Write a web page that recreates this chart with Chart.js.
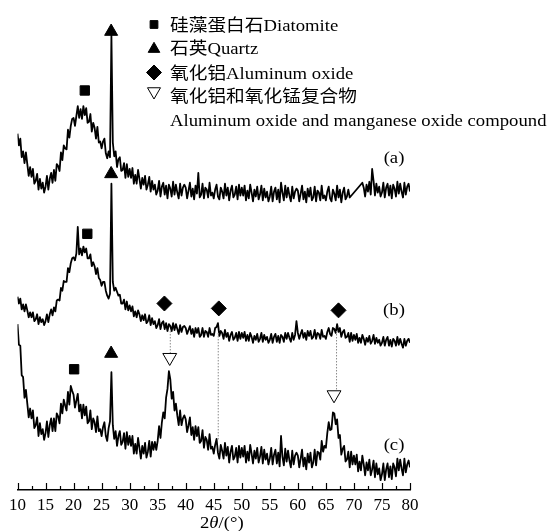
<!DOCTYPE html>
<html>
<head>
<meta charset="utf-8">
<script src="https://cdn.jsdelivr.net/npm/chart.js@4.4.0/dist/chart.umd.min.js"></script>
<style>
  html, body { margin: 0; padding: 0; background: #fff; }
  #xrd { display: block; }
</style>
</head>
<body>
<canvas id="xrd" width="548" height="531"></canvas>
<script>
// 2θ sampling grid, 0.25° steps from 10 to 80
const twoTheta = [];
for (let i = 0; i <= 280; i++) twoTheta.push(10 + i * 0.25);

// intensity (a.u., offset per trace), one row = 5°
const sampleA = [
  363,351,358,339,345,333,344,332,320,329,319,327,312,315,322,306,317,307,313,303,
  309,320,306,317,323,313,326,315,332,330,325,344,336,351,348,347,367,359,371,378,
  379,371,381,391,379,388,378,391,382,389,374,375,383,365,374,369,358,370,354,355,
  348,355,358,343,338,345,339,463,354,340,345,329,337,339,325,326,333,318,332,319,
  327,318,328,312,321,312,326,317,307,318,311,320,306,311,319,304,315,306,311,301,
  305,315,299,309,313,301,310,297,311,307,299,314,301,311,303,297,312,300,308,311,
  308,297,305,313,299,307,296,310,302,323,298,301,312,297,308,306,298,313,300,303,
  297,306,311,299,296,308,304,297,312,300,308,295,305,310,298,301,309,296,311,300,
  308,300,310,295,305,297,311,303,294,306,299,309,296,301,310,295,307,298,304,294,
  299,309,294,304,308,296,306,293,313,303,295,310,298,308,300,294,309,297,304,307,
  305,294,302,310,296,304,293,307,299,308,295,298,309,294,305,303,295,310,297,300,
  295,304,309,297,294,306,302,295,310,298,306,293,303,308,296,299,306,298,null,null,
  null,null,null,null,null,null,313,308,299,311,304,314,301,327,315,300,312,303,309,299,
  303,313,298,308,312,300,310,297,311,307,299,314,302,312,304,298,313,301,309,312,
  304
];
const sampleB = [
  197,190,195,184,189,182,189,183,176,181,176,181,172,174,179,169,176,171,174,168,
  172,179,171,179,184,178,186,182,193,194,193,206,203,213,212,212,226,222,231,236,
  237,234,241,268,240,246,239,248,242,246,236,236,240,228,232,228,220,226,216,214,
  208,212,212,203,198,195,200,312,212,203,206,202,198,199,190,190,194,184,192,183,
  188,182,187,177,182,176,183,179,172,178,173,179,170,172,178,168,175,169,172,165,
  168,174,164,170,172,164,170,162,169,167,162,170,163,169,164,159,168,161,166,167,
  165,159,163,167,159,164,156,165,160,165,156,158,165,156,162,161,156,165,158,159,
  157,165,166,170,157,162,160,154,163,156,160,152,158,161,153,155,160,152,161,154,
  160,155,161,152,158,152,160,156,150,157,153,159,151,154,160,151,158,153,156,150,
  153,159,150,156,159,151,157,150,158,156,151,160,154,160,155,151,160,153,158,172,
  160,154,159,163,155,160,153,162,157,162,154,156,163,154,160,159,154,163,156,157,
  154,161,165,159,157,165,164,160,169,161,165,156,161,163,155,156,160,151,160,152,
  158,153,159,150,155,150,158,154,148,155,151,157,149,152,158,149,155,150,153,147,
  150,156,147,153,156,147,153,146,154,152,147,156,148,154,149,145,154,147,152,154,
  150
];
const sampleC = [
  169,148,147,117,115,94,102,88,74,83,73,81,63,66,74,55,68,57,62,51,
  58,70,54,66,73,60,73,60,78,75,68,88,78,92,86,81,100,87,106,101,
  97,84,91,98,80,87,73,87,76,85,68,70,81,62,73,69,59,75,60,62,
  55,64,69,55,50,63,70,120,66,52,60,45,55,60,46,49,58,42,59,46,
  55,45,55,37,47,37,53,43,32,45,37,48,33,39,50,34,49,41,49,41,
  50,65,53,69,79,73,94,103,121,113,93,100,81,88,76,66,81,66,73,76,
  72,59,66,74,56,64,51,65,55,64,48,50,61,43,54,51,41,57,42,44,
  37,46,52,38,32,46,40,32,48,35,44,28,39,45,31,34,43,28,45,33,
  43,34,45,28,39,30,46,37,27,40,32,43,28,34,44,27,41,31,37,26,
  32,43,26,36,41,27,38,24,55,34,25,42,29,40,30,23,40,26,35,38,
  35,23,32,41,24,33,21,37,28,38,23,28,41,25,39,38,31,50,39,45,
  43,58,69,61,62,79,78,67,72,53,56,36,42,45,29,31,39,23,39,26,
  35,26,36,19,29,20,35,26,15,28,20,31,15,21,30,13,27,16,22,10,
  16,27,10,21,27,13,24,11,27,23,14,32,20,31,22,15,32,18,26,30,
  23
];

// phase markers (2θ, intensity)
const diatomiteX = [22.0, 22.45, 20.1];
const diatomiteY = [407, 261, 123];
const quartzX = [26.7, 26.7, 26.7];
const quartzY = [467, 322, 139];
const aluminaX = [36.2, 45.9, 67.25];
const aluminaY = [190, 185, 183];
const compoundX = [37.15, 66.45];
const compoundY = [135, 97];

// dotted guide lines
const dropX = [37.25, 45.8, 66.9];
const dropTop = [162, 160, 162];
const dropBottom = [139, 50, 101];

// trace tags
const curveTags = ['(a)', '(b)', '(c)'];
const curveTagX = 77.15;
const curveTagY = [338, 183, 45];

const legendText = [
  '硅藻蛋白石Diatomite',
  '石英Quartz',
  '氧化铝Aluminum oxide',
  '氧化铝和氧化锰复合物',
  'Aluminum oxide and manganese oxide compound'
];
const xTicks = [10, 15, 20, 25, 30, 35, 40, 45, 50, 55, 60, 65, 70, 75, 80];

const serif = '"Liberation Serif", "Times New Roman", "Noto Sans CJK SC", serif';

function toPoints(xs, ys) {
  return xs.map((v, i) => ({ x: v, y: ys[i] }));
}

function trace(vals, gaps) {
  return {
    data: vals.map((v, i) => ({ x: twoTheta[i], y: v })),
    borderColor: '#000',
    borderWidth: 1.8,
    borderJoinStyle: 'round',
    pointRadius: 0,
    spanGaps: gaps,
    order: 2
  };
}

function markers(xs, ys, style, r, fill, rot) {
  return {
    data: toPoints(xs, ys),
    showLine: false,
    pointStyle: style,
    pointRadius: r,
    pointHoverRadius: r,
    pointBackgroundColor: fill,
    pointBorderColor: '#000',
    pointBorderWidth: 1,
    pointRotation: rot || 0,
    order: 0
  };
}

const drops = dropX.map((v, i) => ({
  data: [{ x: v, y: dropTop[i] }, { x: v, y: dropBottom[i] }],
  borderColor: '#8a8a8a',
  borderWidth: 1,
  borderDash: [1.5, 1.5],
  pointRadius: 0,
  order: 1
}));

// stretched serif text, the original figure is a bit wide
function wideText(ctx, str, px, py, align) {
  ctx.save();
  ctx.translate(px, py);
  ctx.scale(1.1, 1);
  ctx.textAlign = align;
  ctx.fillText(str, 0, 0);
  ctx.restore();
}

const decor = {
  id: 'decor',
  afterDraw(chart) {
    const { ctx, chartArea } = chart;
    const x = chart.scales.x, y = chart.scales.y;
    ctx.save();

    // inward tick marks on the 2θ axis
    ctx.strokeStyle = '#000';
    ctx.lineWidth = 1.2;
    for (let t = 10; t <= 80; t += 2.5) {
      const px = Math.round(x.getPixelForValue(t)) + 0.5;
      const len = t % 5 === 0 ? 7 : 4;
      ctx.beginPath();
      ctx.moveTo(px, chartArea.bottom);
      ctx.lineTo(px, chartArea.bottom - len);
      ctx.stroke();
    }

    ctx.fillStyle = '#000';
    ctx.font = '17px ' + serif;
    ctx.textBaseline = 'middle';
    curveTags.forEach((s, i) => {
      wideText(ctx, s, x.getPixelForValue(curveTagX), y.getPixelForValue(curveTagY[i]), 'center');
    });

    // legend
    const rows = [
      { style: 'rect', r: 5.5, rot: 0, fill: '#000', y: 24.5 },
      { style: 'triangle', r: 6.7, rot: 0, fill: '#000', y: 49 },
      { style: 'rectRot', r: 7.5, rot: 0, fill: '#000', y: 72.5 },
      { style: 'triangle', r: 7.5, rot: 180, fill: '#fff', y: 91.5 }
    ];
    ctx.strokeStyle = '#000';
    ctx.lineWidth = 1;
    rows.forEach(m => {
      ctx.fillStyle = m.fill;
      Chart.helpers.drawPoint(ctx, { pointStyle: m.style, radius: m.r, rotation: m.rot, borderWidth: 1 }, 154, m.y);
    });
    ctx.fillStyle = '#000';
    ctx.textBaseline = 'alphabetic';
    const baselines = [30.5, 54, 78.5, 101.5, 125.5];
    legendText.forEach((s, i) => wideText(ctx, s, 170, baselines[i], 'left'));

    // axis title 2θ/(°)
    let tx = 200;
    const ty = 528;
    const parts = [['2', ''], ['θ', 'italic '], ['/(°)', '']];
    parts.forEach(([s, st]) => {
      ctx.font = st + '17px ' + serif;
      wideText(ctx, s, tx, ty, 'left');
      tx += ctx.measureText(s).width * 1.1;
    });

    ctx.restore();
  }
};

new Chart(document.getElementById('xrd'), {
  type: 'line',
  data: {
    datasets: [
      trace(sampleA, true),
      trace(sampleB, false),
      trace(sampleC, false),
      ...drops,
      markers(diatomiteX, diatomiteY, 'rect', 6.6, '#000'),
      markers(quartzX, quartzY, 'triangle', 7.5, '#000'),
      markers(aluminaX, aluminaY, 'rectRot', 7.5, '#000'),
      markers(compoundX, compoundY, 'triangle', 8, '#fff', 180)
    ]
  },
  options: {
    responsive: false,
    animation: false,
    events: [],
    layout: { padding: { left: 17.5, right: 138, top: 0, bottom: 0 } },
    plugins: { legend: { display: false }, tooltip: { enabled: false } },
    elements: { line: { tension: 0 } },
    scales: {
      x: {
        type: 'linear',
        min: 10,
        max: 80,
        afterBuildTicks: axis => { axis.ticks = xTicks.map(v => ({ value: v })); },
        afterFit: axis => { axis.height = 41; },
        grid: { display: false, drawTicks: false },
        border: { display: true, color: '#000', width: 1.5 },
        ticks: {
          color: '#000',
          font: { family: serif, size: 17 },
          padding: 5,
          maxRotation: 0,
          autoSkip: false
        }
      },
      y: { display: false, min: 0, max: 490 }
    }
  },
  plugins: [decor]
});
</script>
</body>
</html>
